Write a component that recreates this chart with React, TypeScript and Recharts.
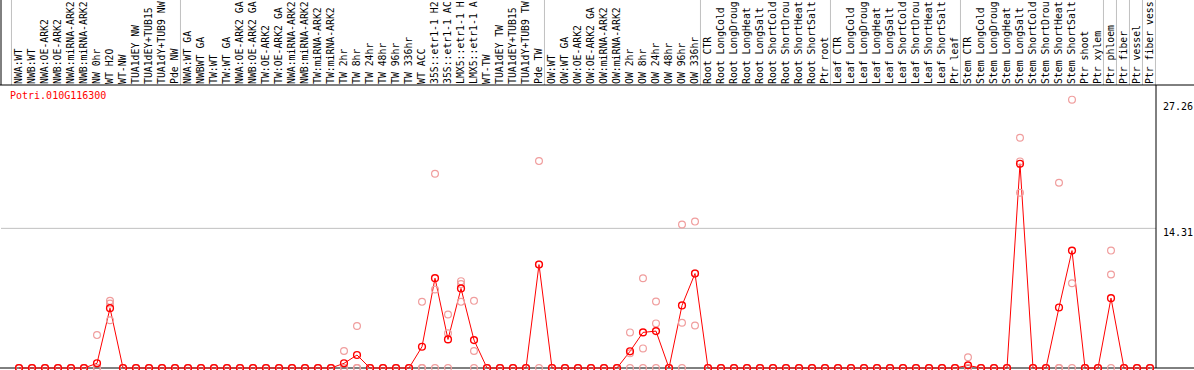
import {
  ComposedChart,
  Line,
  ReferenceLine,
  Scatter,
  XAxis,
  YAxis,
} from "recharts";

// sample names, as far as they are printed (14 characters)
const catLabels = [
  "NWA:WT", "NWB:WT", "NWA:OE-ARK2", "NWB:OE-ARK2", "NWA:miRNA-ARK2", "NWB:miRNA-ARK2",
  "NW 0hr", "WT H2O", "WT-NW", "TUA1dEY NW", "TUA1dEY+TUB15", "TUA1dY+TUB9 NW", "Pde NW",
  "NWA:WT GA", "NWBWT GA", "TW:WT", "TW:WT GA", "NWA:OE-ARK2 GA", "NWB:OE-ARK2 GA",
  "TW:OE-ARK2", "TW:OE-ARK2 GA", "NWA:miRNA-ARK2", "NWB:miRNA-ARK2", "TW:miRNA-ARK2",
  "TW:miRNA-ARK2", "TW 2hr", "TW 8hr", "TW 24hr", "TW 48hr", "TW 96hr", "TW 336hr",
  "WT ACC", "35S::etr1-1 H2", "35S::etr1-1 AC", "LMX5::etr1-1 H", "LMX5::etr1-1 A",
  "WT-TW", "TUA1dEY TW", "TUA1dEY+TUB15", "TUA1dY+TUB9 TW", "Pde TW",
  "OW:WT", "OW:WT GA", "OW:OE-ARK2", "OW:OE-ARK2 GA", "OW:miRNA-ARK2", "OW:miRNA-ARK2",
  "OW 2hr", "OW 8hr", "OW 24hr", "OW 48hr", "OW 96hr", "OW 336hr",
  "Root CTR", "Root LongCold", "Root LongDroug", "Root LongHeat", "Root LongSalt",
  "Root ShortCold", "Root ShortDrou", "Root ShortHeat", "Root ShortSalt", "Ptr root",
  "Leaf CTR", "Leaf LongCold", "Leaf LongDroug", "Leaf LongHeat", "Leaf LongSalt",
  "Leaf ShortCold", "Leaf ShortDrou", "Leaf ShortHeat", "Leaf ShortSalt", "Ptr leaf",
  "Stem CTR", "Stem LongCold", "Stem LongDroug", "Stem LongHeat", "Stem LongSalt",
  "Stem ShortCold", "Stem ShortDrou", "Stem ShortHeat", "Stem ShortSalt", "Ptr shoot",
  "Ptr xylem", "Ptr phloem", "Ptr fiber", "Ptr vessel", "Ptr fiber vess",
];

// mean expression per sample
const meanValues = [
  0, 0, 0, 0, 0, 0, 0.48, 6.13, 0, 0, 0, 0, 0,
  0, 0, 0, 0, 0, 0, 0, 0, 0, 0, 0, 0, 0.48, 1.33, 0, 0, 0, 0,
  2.18, 9.2, 2.93, 8.15, 2.86, 0, 0, 0, 0, 10.6,
  0, 0, 0, 0, 0, 0, 1.71, 3.65, 3.78, 0, 6.41, 9.68,
  0, 0, 0, 0, 0, 0, 0, 0, 0, 0,
  0, 0, 0, 0, 0, 0, 0, 0, 0, 0,
  0.27, 0, 0, 0, 20.93, 0, 0, 6.2, 12.03, 0,
  0, 7.16, 0, 0, 0,
];

// replicates
const rep1 = [
  0, 0, 0, 0, 0, 0, 3.37, 6.88, 0, 0, 0, 0, 0,
  0, 0, 0, 0, 0, 0, 0, 0, 0, 0, 0, 0, 1.74, 4.3, 0, 0, 0, 0,
  6.78, 19.9, 5.49, 8.9, 6.88, 0, 0, 0, 0, 21.2,
  0, 0, 0, 0, 0, 0, 3.65, 9.2, 6.82, 0, 14.7, 15.0,
  0, 0, 0, 0, 0, 0, 0, 0, 0, 0,
  0, 0, 0, 0, 0, 0, 0, 0, 0, 0,
  1.1, 0, 0, 0, 23.6, 0, 0, 18.98, 27.5, 0,
  0, 12.03, 0, 0, 0,
];
const rep2 = [
  0, 0, 0, 0, 0, 0, 0, 6.6, 0, 0, 0, 0, 0,
  0, 0, 0, 0, 0, 0, 0, 0, 0, 0, 0, 0, 0, 0, 0, 0, 0, 0,
  0, 8.05, 3.55, 8.6, 1.74, 0, 0, 0, 0, 10.6,
  0, 0, 0, 0, 0, 0, 1.5, 2.01, 4.57, 0, 4.64, 9.7,
  0, 0, 0, 0, 0, 0, 0, 0, 0, 0,
  0, 0, 0, 0, 0, 0, 0, 0, 0, 0,
  0, 0, 0, 0, 21.17, 0, 0, 0, 8.69, 0,
  0, 9.58, 0, 0, 0,
];
const rep3 = [
  0, 0, 0, 0, 0, 0, 0, 4.9, 0, 0, 0, 0, 0,
  0, 0, 0, 0, 0, 0, 0, 0, 0, 0, 0, 0, 0, 0, 0, 0, 0, 0,
  0, 0, 0, 6.78, 0, 0, 0, 0, 0, 0,
  0, 0, 0, 0, 0, 0, 0, 0, 0, 0, 0, 4.36,
  0, 0, 0, 0, 0, 0, 0, 0, 0, 0,
  0, 0, 0, 0, 0, 0, 0, 0, 0, 0,
  0, 0, 0, 0, 17.96, 0, 0, 0, 0, 0,
  0, 0, 0, 0, 0,
];

const yTicks = [0, 14.31, 27.26];
// sample index after which a separator is drawn
const groupEnds = [0, 13, 41, 53, 63, 73, 84, 85, 86, 87, 88];

const X_MIN = -5 / 13;
const X_MAX = 1150 / 13;
const Y_MAX = 29.0;
const FONT = "'DejaVu Sans Mono', monospace";
const PINK = "#f09d9d";

const data = catLabels.map((name, i) => ({
  idx: i + 1,
  name,
  mean: meanValues[i],
  rep1: rep1[i],
  rep2: rep2[i],
  rep3: rep3[i],
}));

const CatTick = (props: any) => {
  const { x, payload } = props;
  const label = catLabels[payload.value - 1];
  return (
    <text
      x={x}
      y={84}
      dy={2.5}
      transform={`rotate(-90 ${x} 84)`}
      textAnchor="start"
      fontFamily={FONT}
      fontSize={9.8}
      fill="#000"
    >
      {label}
    </text>
  );
};

const ValueTick = (props: any) => {
  const { x, y, payload } = props;
  return (
    <text
      x={x - 1}
      y={y}
      dy={payload.value === 0 ? -2 : 8}
      textAnchor="start"
      fontFamily={FONT}
      fontSize={10}
      fill="#000"
    >
      {payload.value}
    </text>
  );
};

const repDot = (p: any) => (
  <circle cx={p.cx} cy={p.cy} r={3.4} fill="none" stroke={PINK} strokeWidth={1.2} />
);

const meanDot = (p: any) => (
  <circle key={p.index} cx={p.cx} cy={p.cy} r={3.4} fill="none" stroke="#ff0000" strokeWidth={1.4} />
);

// separators run up through the label band
const tallLine = (color: string) => (p: any) => (
  <line x1={p.x1} y1={0} x2={p.x2} y2={p.y2} stroke={color} strokeWidth={1} />
);

// frame lines run the whole width of the picture
const wideLine = (p: any) => (
  <line x1={0} y1={p.y1} x2={1194} y2={p.y2} stroke="#000" strokeWidth={1} />
);

export default function App() {
  return (
    <div style={{ position: "absolute", left: 0, top: 0, width: 1194, height: 370, background: "#fff" }}>
      <ComposedChart
        width={1194}
        height={370}
        data={data}
        margin={{ top: 0, right: 0, bottom: 1, left: 1 }}
      >
        <XAxis
          xAxisId="b"
          dataKey="idx"
          type="number"
          domain={[X_MIN, X_MAX]}
          allowDataOverflow
          height={1}
          tick={false}
          tickLine={false}
          axisLine={false}
        />
        <XAxis
          xAxisId="t"
          dataKey="idx"
          type="number"
          orientation="top"
          domain={[X_MIN, X_MAX]}
          allowDataOverflow
          ticks={data.map((d) => d.idx)}
          interval={0}
          height={85}
          tick={<CatTick />}
          tickLine={false}
          axisLine={false}
        />
        <YAxis
          yAxisId="r"
          orientation="right"
          type="number"
          domain={[0, Y_MAX]}
          ticks={yTicks}
          width={38}
          tick={<ValueTick />}
          tickLine={false}
          axisLine={{ stroke: "#000" }}
        />

        {groupEnds.map((g) => (
          <ReferenceLine
            key={g}
            xAxisId="b"
            yAxisId="r"
            x={g + 0.42}
            stroke="#c0c0c0"
            shape={tallLine("#c0c0c0")}
          />
        ))}
        <ReferenceLine xAxisId="b" yAxisId="r" x={X_MIN} stroke="#000" shape={tallLine("#000")} />
        <ReferenceLine xAxisId="b" yAxisId="r" y={14.31} stroke="#c0c0c0" />
        <ReferenceLine xAxisId="b" yAxisId="r" y={Y_MAX} shape={wideLine} />
        <ReferenceLine xAxisId="b" yAxisId="r" y={0} shape={wideLine} />

        <Scatter xAxisId="b" yAxisId="r" dataKey="rep1" shape={repDot} isAnimationActive={false} />
        <Scatter xAxisId="b" yAxisId="r" dataKey="rep2" shape={repDot} isAnimationActive={false} />
        <Scatter xAxisId="b" yAxisId="r" dataKey="rep3" shape={repDot} isAnimationActive={false} />
        <Line
          xAxisId="b"
          yAxisId="r"
          type="linear"
          dataKey="mean"
          stroke="#ff0000"
          strokeWidth={1}
          dot={meanDot}
          activeDot={false}
          isAnimationActive={false}
        />
      </ComposedChart>
      <div
        style={{
          position: "absolute",
          left: 10,
          top: 90,
          color: "#ff0000",
          fontFamily: FONT,
          fontSize: 10,
          lineHeight: "12px",
        }}
      >
        Potri.010G116300
      </div>
    </div>
  );
}
